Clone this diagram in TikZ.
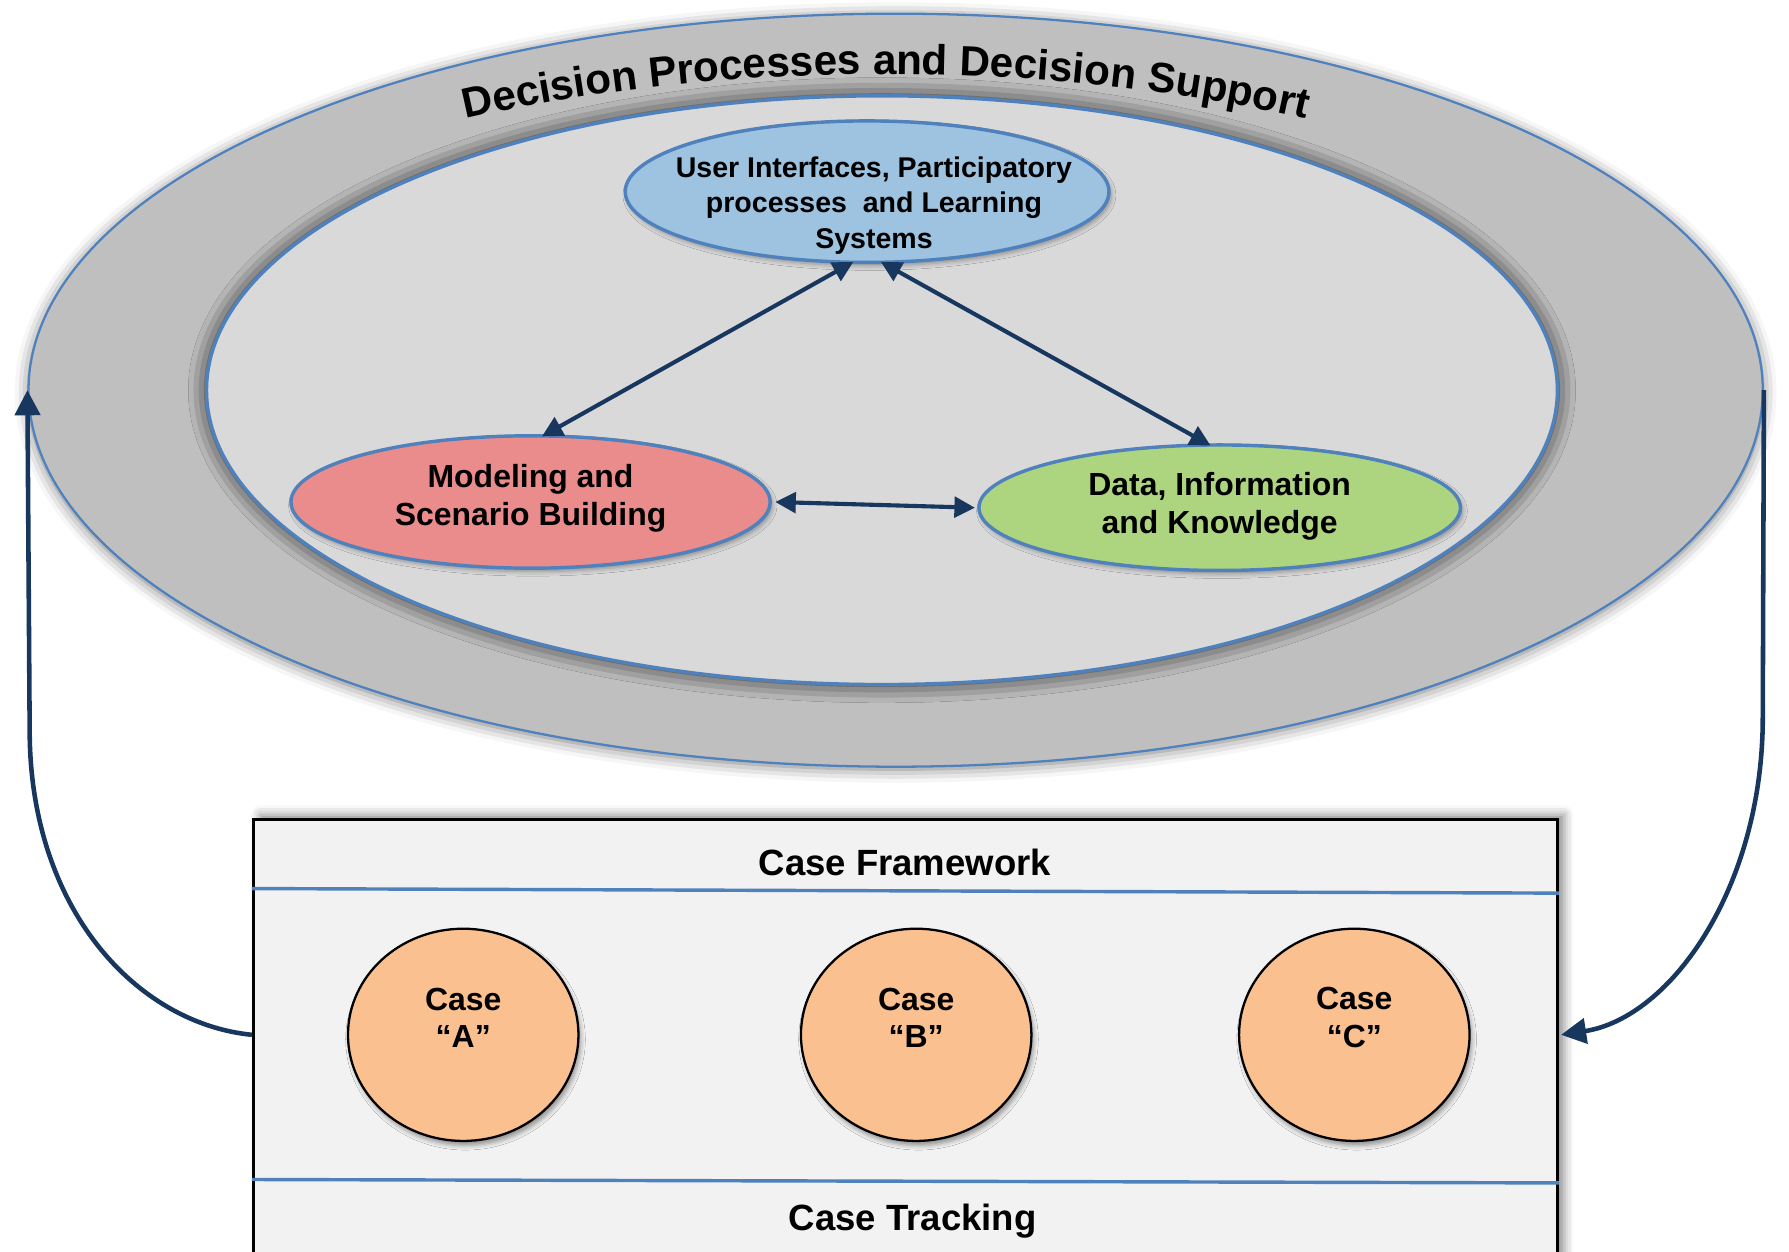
\documentclass[tikz,border=0pt]{standalone}
\usepackage{fontspec}
\setmainfont{Liberation Sans}
\usetikzlibrary{shapes.geometric,arrows.meta,decorations.text,shadows.blur,calc}
\definecolor{outerfill}{HTML}{BFBFBF}
\definecolor{innerfill}{HTML}{D9D9D9}
\definecolor{lineblue}{HTML}{4F81BD}
\definecolor{topfill}{HTML}{9DC3E0}
\definecolor{redfill}{HTML}{EA8C8C}
\definecolor{greenfill}{HTML}{ADD57F}
\definecolor{casefill}{HTML}{FAC090}
\definecolor{boxfill}{HTML}{F2F2F2}
\definecolor{navy}{HTML}{17375E}
\tikzset{
  ring/.style={ellipse, inner sep=0pt, draw=lineblue},
  topic/.style={ellipse, inner sep=0pt, draw=lineblue, line width=1.5pt,
    blur shadow={shadow xshift=1pt, shadow yshift=-1.5pt, shadow blur radius=2pt, shadow opacity=35}},
  topictext/.style={align=center, inner sep=0pt, font=\fontsize{14}{16.5}\selectfont\bfseries},
  casenode/.style={ellipse, inner sep=0pt, draw=black, line width=1pt, fill=casefill,
    minimum width=101pt, minimum height=93pt,
    blur shadow={shadow xshift=1pt, shadow yshift=-2pt, shadow blur radius=2pt, shadow opacity=40}},
  casetext/.style={align=center, inner sep=0pt, font=\fontsize{14}{16.5}\selectfont\bfseries},
  labeltext/.style={inner sep=0pt, font=\fontsize{16}{19}\selectfont\bfseries},
  sepline/.style={draw=lineblue, line width=1.5pt},
  innerarrow/.style={draw=navy, line width=1.8pt,
    {Triangle[length=9pt,width=9pt]}-{Triangle[length=9pt,width=9pt]}},
  bigarrow/.style={draw=navy, line width=2pt, -{Triangle[length=11pt,width=11pt]}},
}
\begin{document}
\begin{tikzpicture}[x=0.5pt,y=0.5pt]
\useasboundingbox (0,0) rectangle (1568,1097);
\clip (0,0) rectangle (1568,1097);
% outer ring
\node[ring, line width=1pt, fill=outerfill, minimum width=760pt, minimum height=330pt,
  blur shadow={shadow xshift=0pt, shadow yshift=-1pt, shadow blur radius=6pt, shadow opacity=55}]
  (outer) at (785,755) {};
\path[decorate, decoration={text along path, text align=center,
  text={|\fontsize{18.5}{20}\selectfont\bfseries|Decision Processes and Decision Support}}]
  (56,752) arc[start angle=180, end angle=0, x radius=360pt, y radius=140pt];
% inner ellipse
\node[ring, line width=1.5pt, fill=innerfill, minimum width=592pt, minimum height=258pt,
  blur shadow={shadow xshift=0pt, shadow yshift=0pt, shadow blur radius=8pt, shadow opacity=85}]
  (inner) at (773,755) {};
% topic ellipses
\node[topic, fill=topfill, minimum width=212pt, minimum height=62pt] (ui) at (760,929) {};
\node[topictext, font=\fontsize{12.5}{15.5}\selectfont\bfseries] (uit) at ($(ui.center)+(6,-12)$)
  {User Interfaces, Participatory\\processes~ and Learning\\Systems};
\node[topic, fill=redfill, minimum width=210pt, minimum height=58pt] (model) at (465,657) {};
\node[topictext] (modelt) at ($(model.center)+(0,3)$) {Modeling and\\Scenario Building};
\node[topic, fill=greenfill, minimum width=211pt, minimum height=55pt] (data) at (1069,652) {};
\node[topictext] (datat) at ($(data.center)+(0,1)$) {Data, Information\\and Knowledge};
% inner connectors
\draw[innerarrow] ($(ui.south)+(-12,2)$) -- ($(model.north)+(10,-2)$);
\draw[innerarrow] ($(ui.south)+(12,2)$) -- ($(data.north)+(-8,-2)$);
\draw[innerarrow] ($(model.east)+(3,0)$) -- ($(data.west)+(-2,0)$);
% case box
\node[rectangle, draw=black, line width=1.2pt, fill=boxfill, inner sep=0pt,
  minimum width=571.5pt, minimum height=199.5pt,
  blur shadow={shadow xshift=3pt, shadow yshift=2pt, shadow blur radius=4pt, shadow opacity=45}]
  (box) at (793.5,179.5) {};
\draw[sepline] ($(box.north west)+(0,-62)$) -- ($(box.north east)+(0,-66)$);
\draw[sepline] ($(box.north west)+(0,-317)$) -- ($(box.north east)+(0,-320)$);
\node[labeltext] (frame) at (793,341) {Case Framework};
\node[labeltext] (track) at (800,27) {Case Tracking};
\node[casenode] (A) at (406,190) {};
\node[casenode] (B) at (803,190) {};
\node[casenode] (C) at (1187,190) {};
\node[casetext] (At) at ($(A.center)+(0,15)$) {Case\\“A”};
\node[casetext] (Bt) at ($(B.center)+(0,15)$) {Case\\“B”};
\node[casetext] (Ct) at ($(C.center)+(0,15)$) {Case\\“C”};
% feedback arrows
\coordinate (lbend) at (26,457);
\coordinate (rbend) at (1545,468);
\draw[bigarrow] (box.west |- A.center) .. controls (120,200) and (26,300) .. (lbend) -- (outer.west);
\draw[bigarrow] (outer.east) -- (rbend) .. controls (1545,320) and (1465,205) .. ($(box.east |- C.center)+(2,0)$);
\end{tikzpicture}
\end{document}
